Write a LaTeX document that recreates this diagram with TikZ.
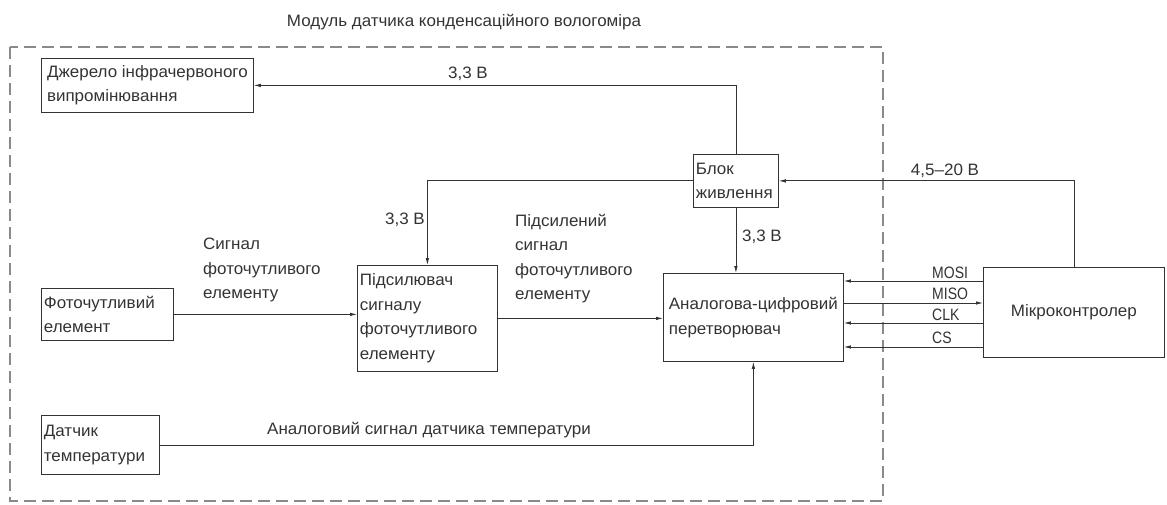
\documentclass[tikz,border=0pt]{standalone}
\usepackage{fontspec}
\setmainfont{Liberation Sans}[FakeStretch=1.03]
\newfontfamily\narrowfont{Liberation Sans}[FakeStretch=0.85]
\usetikzlibrary{arrows.meta,calc}
\definecolor{ink}{HTML}{333333}
\definecolor{frame}{HTML}{8A8A8A}
\begin{document}
\begin{tikzpicture}[x=1pt,y=-1pt,
  every node/.style={font=\fontsize{16.5}{24.5}\selectfont, text=ink},
  box/.style={draw=ink, line width=0.8pt, rectangle, anchor=north west, inner xsep=2pt, inner ysep=0pt, align=left},
  lab/.style={inner sep=0pt},
  spi/.style={inner sep=0pt, anchor=west, font=\fontsize{16.5}{20}\narrowfont},
  arr/.style={draw=ink, line width=0.8pt, -{Latex[length=7pt,width=3.5pt]}},
  ln/.style={draw=ink, line width=0.8pt}]
\useasboundingbox (0,0) rectangle (1167,505);
% frame
\draw[frame, line width=1.1pt, dash pattern=on 12pt off 6pt] (10,47) rectangle (883,501);
\node[lab] (title) at (464,22) {Модуль датчика конденсаційного вологоміра};
% boxes
\node[box, minimum width=212, minimum height=54] (dzh) at (41,58) {Джерело інфрачервоного\\випромінювання};
\node[box, minimum width=85, minimum height=53, text width=80] (blok) at (693,154) {Блок\\живлення};
\node[box, minimum width=132, minimum height=52, text width=127] (foto) at (41,288) {Фоточутливий\\елемент};
\node[box, minimum width=140, minimum height=106, text width=135] (pid) at (357,265) {Підсилювач\\сигналу\\фоточутливого\\елементу};
\node[box, minimum width=180, minimum height=88] (adc) at (663,273) {Аналогова-цифровий\\перетворювач};
\node[box, minimum width=118, minimum height=59, text width=113] (temp) at (41,415) {Датчик\\температури};
\node[box, minimum width=181, minimum height=90, align=center] (mcu) at (983,267) {Мікроконтролер};
% power lines
\draw[arr] (blok.north) |- (dzh.east);
\node[lab] (l1) at (468,74) {3,3 В};
\draw[arr] (blok.west) -| (pid.north);
\node[lab] (l2) at (405,220) {3,3 В};
\draw[arr] (blok.south) -- (blok.south |- adc.north);
\node[lab] (l3) at (762,237) {3,3 В};
\draw[arr] (mcu.north) |- (blok.east);
\node[lab] (l4) at (945,171) {4,5–20 В};
% signals
\draw[arr] (foto.east) -- (foto.east -| pid.west);
\node[lab, anchor=north west, align=left] (s1) at (203,238) {Сигнал\\фоточутливого\\елементу};
\draw[arr] (pid.east) -- (pid.east -| adc.west);
\node[lab, anchor=north west, align=left] (s2) at (515,214) {Підсилений\\сигнал\\фоточутливого\\елементу};
\draw[arr] (temp.east) -| (adc.south);
\node[lab] (s3) at (429,430) {Аналоговий сигнал датчика температури};
% SPI
\coordinate (m1) at (983,281);
\coordinate (m2) at (983,303);
\coordinate (m3) at (983,323);
\coordinate (m4) at (983,347);
\draw[arr] (m1) -- (m1 -| adc.east);
\draw[arr] (m2 -| adc.east) -- (m2);
\draw[arr] (m3) -- (m3 -| adc.east);
\draw[arr] (m4) -- (m4 -| adc.east);
\node[spi] (t1) at (932,273) {MOSI};
\node[spi] (t2) at (932,294) {MISO};
\node[spi] (t3) at (932,315) {CLK};
\node[spi] (t4) at (932,338) {CS};
\end{tikzpicture}
\end{document}
